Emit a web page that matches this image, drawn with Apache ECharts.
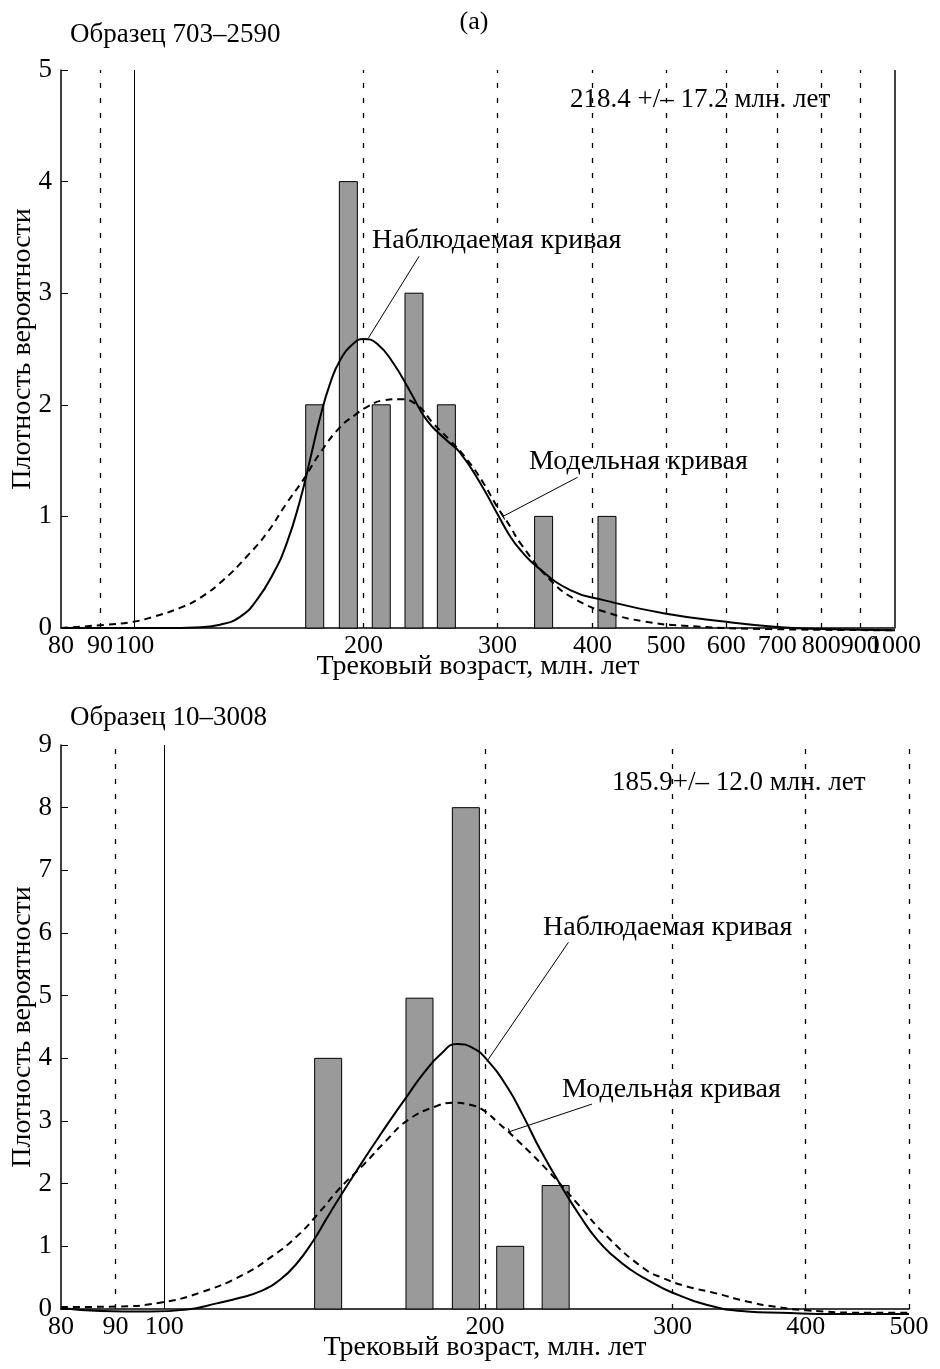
<!DOCTYPE html>
<html>
<head>
<meta charset="utf-8">
<script src="https://cdn.jsdelivr.net/npm/echarts@6/dist/echarts.min.js"></script>
<style>
  html, body { margin: 0; padding: 0; background: #fff; }
  #chart { width: 940px; height: 1369px; }
</style>
</head>
<body>
<div id="chart"></div>
<script>
// ---- Sample 703–2590 (upper panel) ----
const binCentersA = [172.5, 191, 211, 233, 257, 345, 418];
const countsA     = [2, 4, 2, 3, 2, 1, 1];

const obsAgeA = [80, 110, 120, 129.5, 137.6, 144.7, 152.2, 158.5, 165.1, 170.1, 175.4, 180.7, 186.3, 194, 200,
                 208.2, 219, 230.3, 242.3, 257.4, 268, 284.7, 299.5, 311.8, 321.5, 338.1, 374, 413.7, 498, 600, 700, 800, 1000];
const obsDenA = [0, 0, 0.005, 0.03, 0.10, 0.25, 0.49, 0.76, 1.15, 1.51, 1.89, 2.19, 2.40, 2.55, 2.59,
                 2.55, 2.37, 2.12, 1.86, 1.68, 1.57, 1.30, 1.03, 0.82, 0.70, 0.55, 0.34, 0.25, 0.13, 0.056, 0.01, -0.01, -0.02];

const modAgeA = [80, 91.9, 99.6, 105.8, 114.7, 121.9, 130.8, 140.4, 149.2, 158.5, 166.7, 175.4, 186.3, 195, 202,
                 212.4, 223.4, 235, 247.2, 260, 273.5, 287.5, 299.5, 311.8, 321.5, 352, 381.5, 422.2, 467, 527, 685, 1000];
const modDenA = [0, 0.03, 0.056, 0.10, 0.18, 0.27, 0.43, 0.64, 0.85, 1.12, 1.33, 1.57, 1.80, 1.91, 1.98,
                 2.04, 2.05, 2.00, 1.83, 1.68, 1.51, 1.30, 1.09, 0.91, 0.76, 0.43, 0.25, 0.13, 0.06, 0.02, -0.01, -0.02];

const xTicksA      = [80, 90, 100, 200, 300, 400, 500, 600, 700, 800, 900, 1000];
const dashedGridA  = [90, 200, 300, 400, 500, 600, 700, 800, 900];
const leaderObsA   = [[236.6, 3.33], [203, 2.60]];
const leaderModA   = [[382.3, 1.35], [305.1, 1.00]];

// ---- Sample 10–3008 (lower panel) ----
const binCentersB = [142.5, 173.6, 191.9, 211.2, 233];
const countsB     = [4, 4.96, 8, 1, 1.97];

const obsAgeB = [80, 87.1, 97, 105, 112, 117.8, 123, 128.5, 133.2, 138, 142.1, 146.2, 151.6, 157.2, 162.9, 168.9,
                 175.1, 181.6, 188.2, 195.1, 200.8, 209.7, 217.4, 225.4, 237, 245.7, 254.7, 264.1, 273.8, 283.8,
                 300, 327.7, 352.3, 378.8, 428, 500];
const obsDenB = [0.016, -0.03, -0.04, -0.01, 0.09, 0.18, 0.28, 0.47, 0.73, 1.09, 1.45, 1.79, 2.21, 2.62, 3.01, 3.39,
                 3.76, 4.06, 4.23, 4.16, 3.98, 3.55, 3.07, 2.54, 1.90, 1.48, 1.11, 0.84, 0.63, 0.47,
                 0.26, 0.04, -0.04, -0.06, -0.08, -0.08];

const modAgeB = [80, 90.3, 99.1, 108, 118.7, 126.2, 133.2, 140.1, 146.2, 153.8, 161.2, 169.5, 180.2, 186.9,
                 193.7, 199.4, 205.2, 215.8, 230.2, 244, 260.3, 281.8, 294.2, 309.4, 327.7, 352.3, 373.3, 400, 459.9, 500];
const modDenB = [0.03, 0.04, 0.10, 0.26, 0.55, 0.84, 1.16, 1.56, 1.93, 2.30, 2.67, 3.02, 3.24, 3.29,
                 3.26, 3.17, 2.99, 2.65, 2.17, 1.69, 1.16, 0.65, 0.49, 0.36, 0.26, 0.12, 0.04, -0.02, -0.06, -0.06];

const xTicksB      = [80, 90, 100, 200, 300, 400, 500];
const dashedGridB  = [90, 200, 300, 400, 500];
const leaderObsB   = [[239.5, 5.85], [200.8, 3.95]];
const leaderModB   = [[252, 3.27], [210.9, 2.83]];

// ---- drawing ----
const SERIF = '"Liberation Serif", "DejaVu Serif", "Times New Roman", serif';
const zip = (xs, ys) => xs.map((x, i) => [x, ys[i]]);

function barSeries(idx, centers, counts, barW) {
  return {
    type: 'custom',
    xAxisIndex: idx, yAxisIndex: idx,
    data: zip(centers, counts),
    z: 2,
    renderItem: function (params, api) {
      const top = api.coord([api.value(0), api.value(1)]);
      const base = api.coord([api.value(0), 0]);
      return {
        type: 'rect',
        shape: { x: top[0] - barW / 2, y: top[1], width: barW, height: base[1] - top[1] },
        style: { fill: '#9a9a9a', stroke: '#000', lineWidth: 1 }
      };
    }
  };
}

function curve(idx, xs, ys, dashed) {
  return {
    type: 'line',
    xAxisIndex: idx, yAxisIndex: idx,
    data: zip(xs, ys),
    smooth: 0.5,
    showSymbol: false,
    clip: false,
    z: 5,
    lineStyle: { color: '#000', width: 2, type: dashed ? [7, 5] : 'solid' }
  };
}

function leader(idx, pts, tickRotate) {
  const data = [pts[0], pts[1]];
  if (tickRotate !== undefined) {
    data[1] = { value: pts[1], symbol: 'rect', symbolSize: [1.2, 7], symbolRotate: tickRotate };
  }
  return {
    type: 'line',
    xAxisIndex: idx, yAxisIndex: idx,
    data: data,
    symbol: 'none',
    showSymbol: true,
    clip: false,
    z: 6,
    itemStyle: { color: '#000' },
    lineStyle: { color: '#000', width: 1 }
  };
}

function gridLines(idx, dashedVals, solidVals, borderVals) {
  const d = [];
  dashedVals.forEach(v => d.push({ xAxis: v, lineStyle: { type: [5, 10], color: '#000', width: 1.3 } }));
  solidVals.forEach(v => d.push({ xAxis: v, lineStyle: { type: 'solid', color: '#000', width: 1 } }));
  borderVals.forEach(v => d.push({ xAxis: v, lineStyle: { type: 'solid', color: '#444', width: 2 } }));
  return {
    type: 'line',
    xAxisIndex: idx, yAxisIndex: idx,
    data: [],
    z: 1,
    markLine: { silent: true, symbol: ['none', 'none'], label: { show: false }, animation: false, data: d }
  };
}

function xAxis(idx, max) {
  return {
    type: 'log', logBase: 10, gridIndex: idx, min: 80, max: max,
    axisLine: { show: true, onZero: false, lineStyle: { color: '#000', width: 1.5 } },
    axisTick: { show: false },
    axisLabel: { show: false },
    splitLine: { show: false },
    minorTick: { show: false },
    name: 'Трековый возраст, млн. лет',
    nameLocation: 'middle',
    nameGap: 25,
    nameTextStyle: { fontFamily: SERIF, fontSize: 28, color: '#000' }
  };
}

function yAxis(idx, max) {
  return {
    type: 'value', gridIndex: idx, min: 0, max: max, interval: 1,
    axisLine: { show: true, onZero: false, lineStyle: { color: '#000', width: 1.5 } },
    axisTick: { show: true, inside: true, length: 7, lineStyle: { color: '#000' } },
    axisLabel: { fontFamily: SERIF, fontSize: 27, color: '#000', margin: 9 },
    splitLine: { show: false }
  };
}

const chart = echarts.init(document.getElementById('chart'), null, { renderer: 'canvas' });

chart.setOption({
  animation: false,
  backgroundColor: '#fff',
  grid: [
    { left: 61, top: 70, width: 834, height: 558, outerBoundsMode: 'none' },
    { left: 61, top: 745, width: 848, height: 564, outerBoundsMode: 'none' }
  ],
  xAxis: [xAxis(0, 1000), xAxis(1, 500)],
  yAxis: [yAxis(0, 5), yAxis(1, 9)],
  series: [
    gridLines(0, dashedGridA, [100], [1000]),
    gridLines(1, dashedGridB, [100], []),
    barSeries(0, binCentersA, countsA, 18),
    barSeries(1, binCentersB, countsB, 27),
    curve(0, modAgeA, modDenA, true),
    curve(0, obsAgeA, obsDenA, false),
    curve(1, modAgeB, modDenB, true),
    curve(1, obsAgeB, obsDenB, false),
    leader(0, leaderObsA),
    leader(0, leaderModA, 28),
    leader(1, leaderObsB),
    leader(1, leaderModB, 19)
  ]
});

function txt(text, x, y, size, align, rotation) {
  return {
    type: 'text', x: x, y: y, z: 10, rotation: rotation || 0,
    style: { text: text, fontFamily: SERIF, fontSize: size, fill: '#000',
             align: align || 'left', verticalAlign: 'middle',
             textAlign: align || 'left', textVerticalAlign: 'middle' }
  };
}

// x tick labels placed through the log scale of each grid
const graphics = [];
[[0, xTicksA], [1, xTicksB]].forEach(([gi, ticks]) => {
  ticks.forEach(v => {
    const p = chart.convertToPixel({ gridIndex: gi }, [v, 0]);
    graphics.push(txt(String(v), p[0], p[1] + 18, 26, 'center'));
  });
});

// vertical axis titles, centred on each plot's height
[0, 1].forEach(gi => {
  const rect = chart.getModel().getComponent('grid', gi).coordinateSystem.getRect();
  graphics.push(txt('Плотность вероятности', 23, rect.y + rect.height / 2, 28, 'center', Math.PI / 2));
});

graphics.push(
  txt('(а)', 474, 22, 26, 'center'),
  txt('Образец 703–2590', 70, 35, 27),
  txt('218.4 +/– 17.2 млн. лет', 570, 100, 27),
  txt('Наблюдаемая кривая', 372, 241, 28),
  txt('Модельная кривая', 529, 462, 28),
  txt('Образец 10–3008', 70, 718, 27),
  txt('185.9+/– 12.0 млн. лет', 612, 783, 27),
  txt('Наблюдаемая кривая', 543, 928, 28),
  txt('Модельная кривая', 562, 1090, 28)
);

chart.setOption({ graphic: graphics });
</script>
</body>
</html>
